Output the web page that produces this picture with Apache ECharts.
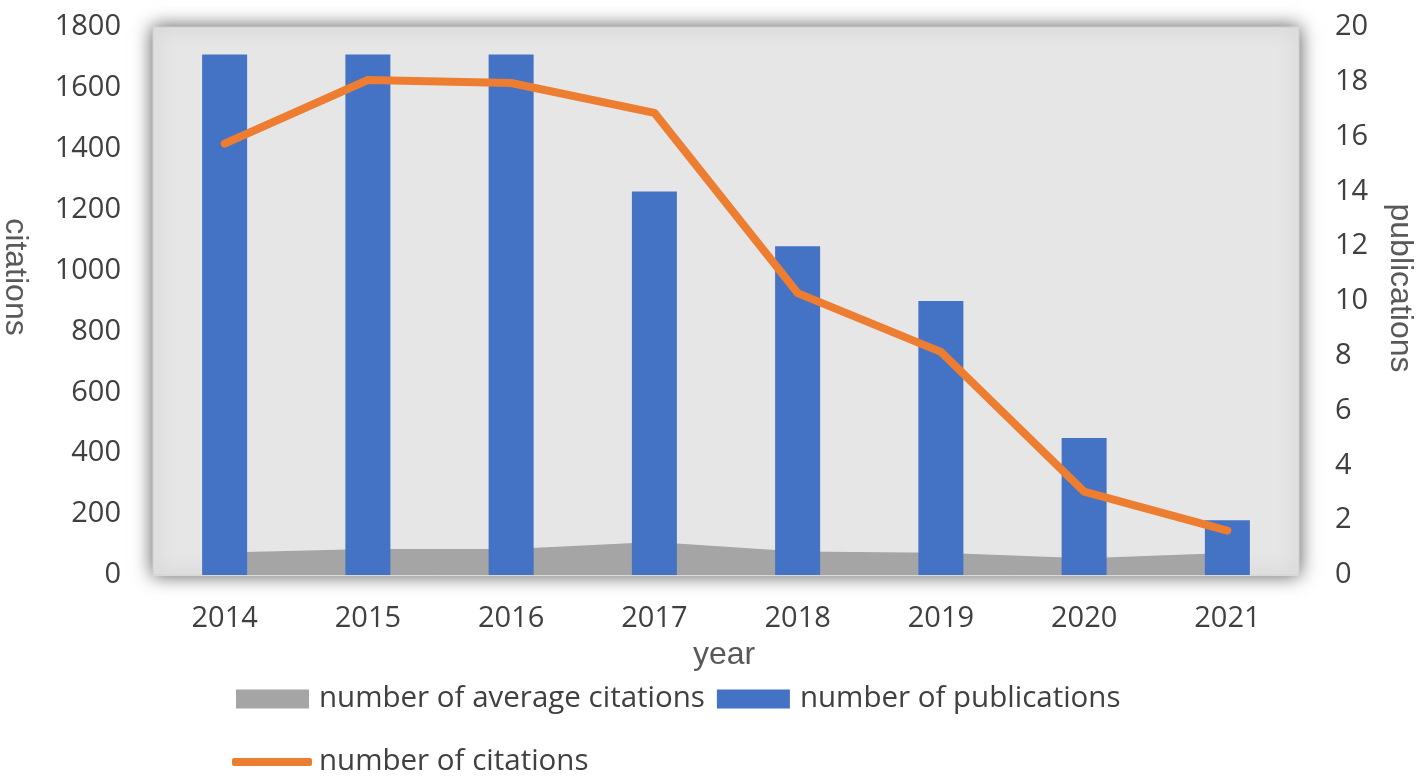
<!DOCTYPE html>
<html lang="en">
<head>
	<meta charset="UTF-8">
	<title>citations and publications</title>
	<script src="https://cdn.jsdelivr.net/npm/echarts@6/dist/echarts.min.js"></script>
	<style>
		html, body { margin: 0; padding: 0; background: #fff; }
		#chart { width: 1418px; height: 777px; }
	</style>
</head>
<body>
	<div id="chart"></div>
	<script>
		// data
		var years = ['2014', '2015', '2016', '2017', '2018', '2019', '2020', '2021'];
		var publications = [19, 19, 19, 14, 12, 10, 5, 2];
		var citations = [1417, 1626, 1616, 1518, 926, 733, 274, 146];
		var avgCitations = [74, 85, 85, 108, 77, 73, 55, 72];

		var labelFont = 'Open Sans';
		var titleFont = 'Liberation Sans';

		var myChart = echarts.init(document.getElementById('chart'));
		myChart.setOption({
			animation: false,
			backgroundColor: '#fff',
			grid: {
				left: 153,
				right: 119,
				top: 27,
				bottom: 202,
				show: true,
				backgroundColor: '#e6e6e6',
				borderColor: '#d0d0d0',
				borderWidth: 1,
				shadowBlur: 18,
				shadowColor: 'rgba(0,0,0,0.65)'
			},
			legend: [{
				left: 236,
				top: 684,
				padding: 0,
				itemWidth: 73,
				itemHeight: 19,
				itemGap: 12,
				textStyle: { fontFamily: labelFont, fontSize: 29.5, color: '#404040', padding: [0, 0, 0, 5] },
				data: [
					{ name: 'number of average citations', icon: 'rect' },
					{ name: 'number of publications', icon: 'rect' }
				]
			}, {
				left: 232,
				top: 747,
				padding: 0,
				itemWidth: 80,
				itemHeight: 8,
				textStyle: { fontFamily: labelFont, fontSize: 29.5, color: '#404040', padding: [0, 0, 0, 2] },
				data: [{ name: 'number of citations', icon: 'roundRect' }]
			}],
			graphic: [
				{ type: 'text', x: 15, y: 277, rotation: -Math.PI / 2,
					style: { text: 'citations', fontFamily: titleFont, fontSize: 32, fill: '#595959', align: 'center', verticalAlign: 'middle' } },
				{ type: 'text', x: 1400, y: 288, rotation: -Math.PI / 2,
					style: { text: 'publications', fontFamily: titleFont, fontSize: 32, fill: '#595959', align: 'center', verticalAlign: 'middle' } },
				{ type: 'text', x: 724, y: 655,
					style: { text: 'year', fontFamily: titleFont, fontSize: 32, fill: '#595959', align: 'center', verticalAlign: 'middle' } }
			],
			xAxis: {
				type: 'category',
				data: years,
				boundaryGap: true,
				axisLine: { lineStyle: { color: '#d9d9d9', width: 1 } },
				axisTick: { show: false },
				axisLabel: { fontFamily: labelFont, fontSize: 29, color: '#404040', margin: 29 }
			},
			yAxis: [{
				type: 'value',
				min: 0,
				max: 1800,
				interval: 200,
				axisLine: { show: false },
				axisTick: { show: false },
				splitLine: { show: false },
				axisLabel: {
					fontFamily: labelFont, fontSize: 29, color: '#404040', margin: 32,
					formatter: function (v) { return String(v); }
				}
			}, {
				type: 'value',
				min: 0,
				max: 20,
				interval: 2,
				axisLine: { show: false },
				axisTick: { show: false },
				splitLine: { show: false },
				axisLabel: { fontFamily: labelFont, fontSize: 29, color: '#404040', margin: 36 }
			}],
			series: [{
				name: 'number of average citations',
				type: 'line',
				yAxisIndex: 0,
				data: avgCitations,
				showSymbol: false,
				z: 1,
				itemStyle: { color: '#a5a5a5' },
				lineStyle: { width: 0 },
				areaStyle: { color: '#a5a5a5', opacity: 1 }
			}, {
				name: 'number of publications',
				type: 'bar',
				yAxisIndex: 1,
				data: publications,
				barWidth: 45,
				z: 2,
				itemStyle: { color: '#4472c4' }
			}, {
				name: 'number of citations',
				type: 'line',
				yAxisIndex: 0,
				data: citations,
				showSymbol: false,
				z: 3,
				itemStyle: { color: '#ed7d31' },
				lineStyle: { color: '#ed7d31', width: 8, cap: 'round', join: 'round' }
			}]
		});
	</script>
</body>
</html>
